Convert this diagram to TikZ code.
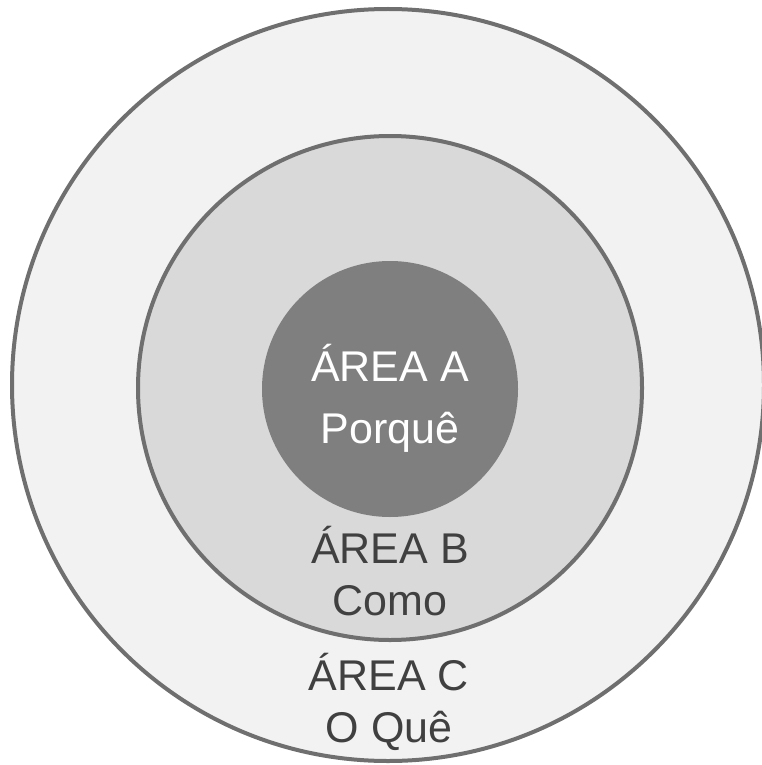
\documentclass[tikz,border=0pt]{standalone}
\usepackage{fontspec}
\setmainfont{Liberation Sans}
\definecolor{ringC}{HTML}{F2F2F2}
\definecolor{ringB}{HTML}{D9D9D9}
\definecolor{coreA}{HTML}{7F7F7F}
\definecolor{rim}{HTML}{6F6F6F}
\definecolor{ink}{HTML}{404040}

\begin{document}
\begin{tikzpicture}[x=1pt,y=-1pt,
    ring/.style={circle,draw=rim,line width=4pt,inner sep=0pt},
    lbl/.style={anchor=base,inner sep=0pt,font=\fontsize{43}{51}\selectfont}]
            \useasboundingbox (0,0) rectangle (761,765);
            
            \node (areaC) [ring,fill=ringC,minimum size=752pt] at (388,385) {};
            \node (areaB) [ring,fill=ringB,minimum size=504pt] at (390,388) {};
            \node (areaA) [circle,fill=coreA,inner sep=0pt,minimum size=256pt] at (390,389) {};
            
            \node (titleA) [lbl,text=white] at (390,381) {ÁREA A};
            \node (nameA) [lbl,text=white] at (390,443) {Porquê};
            \node (titleB) [lbl,text=ink] at (390,563) {ÁREA B};
            \node (nameB) [lbl,text=ink] at (390,615) {Como};
            \node (titleC) [lbl,text=ink] at (389,690) {ÁREA C};
            \node (nameC) [lbl,text=ink] at (389,742) {O Quê};
        \end{tikzpicture}
\end{document}
